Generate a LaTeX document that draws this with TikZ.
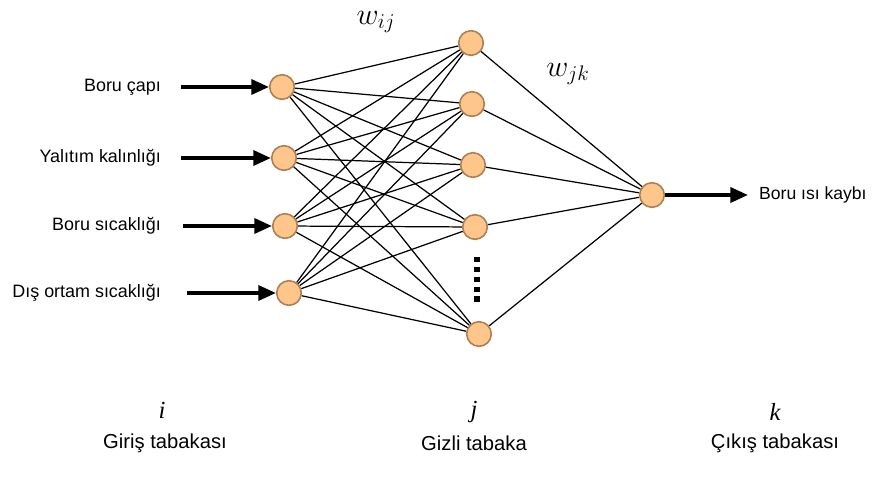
\documentclass[tikz,border=0pt]{standalone}
\usepackage{fontspec}
\setmainfont{Liberation Sans}
\newfontfamily\mathlike{Liberation Serif}
\usetikzlibrary{arrows.meta}

\tikzset{
  neuron/.style={circle, draw=brown!70!gray, fill=orange!45!white, line width=0.9pt, minimum size=14pt, inner sep=0pt},
  feed/.style={line width=2pt, -{Triangle[length=10pt, width=8.5pt]}},
  link/.style={line width=0.7pt},
  inlabel/.style={anchor=east, font=\fontsize{10.2}{12}\selectfont},
  layername/.style={font=\fontsize{11.5}{13}\selectfont},
  layerindex/.style={font=\fontsize{14}{16}\selectfont\mathlike\itshape},
}

\begin{document}
\begin{tikzpicture}[x=0.02cm, y=-0.02cm]
  \useasboundingbox (0,0) rectangle (877,487);

  % input layer
  \node[neuron] (i1) at (282,87) {};
  \node[neuron] (i2) at (284,158) {};
  \node[neuron] (i3) at (285,226) {};
  \node[neuron] (i4) at (289,293) {};

  % hidden layer
  \node[neuron] (h1) at (471,43) {};
  \node[neuron] (h2) at (472,104) {};
  \node[neuron] (h3) at (473,165) {};
  \node[neuron] (h4) at (475,227) {};
  \node[neuron] (h5) at (479,334) {};

  % output layer
  \node[neuron] (o) at (652,195) {};

  % input texts
  \node[inlabel] (t1) at (167,87) {Boru çapı};
  \node[inlabel] (t2) at (167,158) {Yalıtım kalınlığı};
  \node[inlabel] (t3) at (167,226) {Boru sıcaklığı};
  \node[inlabel] (t4) at (167,293) {Dış ortam sıcaklığı};

  \draw[feed] (t1.east) ++(14,0) coordinate (s1) -- (i1);
  \draw[feed] (t2.east) ++(14,0) coordinate (s2) -- (i2);
  \draw[feed] (t3.east) ++(16,0) coordinate (s3) -- (i3);
  \draw[feed] (t4.east) ++(20,0) coordinate (s4) -- (i4);

  % weights
  \foreach \a in {1,...,4}
    \foreach \b in {1,...,5}
      \draw[link] (i\a) -- (h\b);
  \foreach \b in {1,...,5}
    \draw[link] (h\b) -- (o);

  % dots between hidden nodes
  \coordinate (d1) at (477,257);
  \coordinate (d2) at (477,306);
  \draw[line width=3pt, dash pattern=on 3pt off 2.6pt] (d1) -- (d2);

  % output
  \coordinate (oend) at (748,195);
  \draw[feed] (o) -- (oend);
  \node[anchor=west, font=\fontsize{10}{12}\selectfont] (out) at (753,195) {Boru ısı kaybı};

  % weight names
  \node[font=\fontsize{18}{20}\selectfont] (wij) at (376,22) {$w_{ij}$};
  \node[font=\fontsize{18}{20}\selectfont] (wjk) at (568,74) {$w_{jk}$};

  % layer names
  \node[layerindex] (li) at (162,410) {i};
  \node[layerindex] (lj) at (474,412) {j};
  \node[layerindex] (lk) at (775,412) {k};
  \node[layername] (gi) at (165,443) {Giriş tabakası};
  \node[layername] (gj) at (474,443) {Gizli tabaka};
  \node[layername] (gk) at (775,443) {Çıkış tabakası};
\end{tikzpicture}
\end{document}
